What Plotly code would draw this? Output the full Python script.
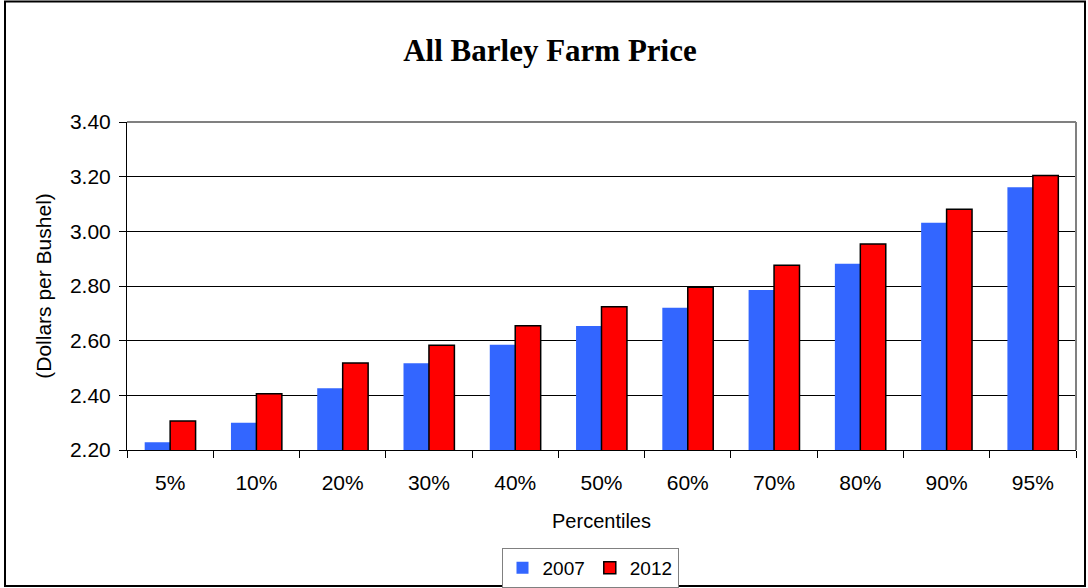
import plotly.graph_objects as go

categories = ["5%", "10%", "20%", "30%", "40%", "50%", "60%", "70%", "80%", "90%", "95%"]
values_2007 = [2.228, 2.300, 2.426, 2.517, 2.585, 2.654, 2.720, 2.785, 2.881, 3.031, 3.161]
values_2012 = [2.306, 2.406, 2.518, 2.583, 2.655, 2.724, 2.795, 2.876, 2.954, 3.081, 3.204]
y_ticks = [2.20, 2.40, 2.60, 2.80, 3.00, 3.20, 3.40]

W, H = 1088, 588
L, R, T, B = 127, 1076, 122, 450  # plot area in pixels

def px_x(p):
    return (p - L) / (R - L)

def px_y(p):
    return (B - p) / (B - T)

fig = go.Figure()
fig.add_trace(go.Bar(x=categories, y=values_2007, name="2007",
                     marker=dict(color="#3366FF", line=dict(width=0))))
fig.add_trace(go.Bar(x=categories, y=values_2012, name="2012",
                     marker=dict(color="#FF0000", line=dict(color="black", width=1.5))))

fig.update_layout(
    width=W, height=H,
    margin=dict(l=L, r=W - R, t=T, b=H - B, pad=0, autoexpand=False),
    paper_bgcolor="white", plot_bgcolor="white",
    barmode="group", bargap=0.41, bargroupgap=0,
    font=dict(family="Liberation Sans, Arial, sans-serif", size=21, color="black"),
    title=dict(text="<b>All Barley Farm Price</b>", x=px_x(550), xref="paper", xanchor="center",
               y=1 - 50 / H, yanchor="middle",
               font=dict(family="Liberation Serif, Times New Roman, serif", size=31, color="black")),
    showlegend=True,
    legend=dict(orientation="h", x=px_x(590), y=px_y(568), xref="paper", yref="paper",
                xanchor="center", yanchor="middle",
                bordercolor="#808080", borderwidth=1, bgcolor="white",
                font=dict(size=19), itemwidth=30, tracegroupgap=0),
    xaxis=dict(type="category", showline=True, linecolor="black", linewidth=1,
               ticks="outside", ticklen=7, tickcolor="black", tickson="boundaries",
               showgrid=False, tickfont=dict(size=21), automargin=False,
               ticklabelstandoff=14,
               title=dict(text="Percentiles", font=dict(size=20), standoff=20)),
    yaxis=dict(range=[2.2, 3.4], tickvals=y_ticks, tickformat=".2f",
               showline=True, linecolor="black", linewidth=1,
               ticks="outside", ticklen=7, tickcolor="black",
               showgrid=True, gridcolor="black", gridwidth=1, zeroline=False,
               tickfont=dict(size=21), automargin=False, ticklabelstandoff=4,
               title=dict(text="(Dollars per Bushel)", font=dict(size=21), standoff=12)),
)

# gray plot-area frame (top and right)
fig.add_shape(type="line", xref="paper", yref="paper", x0=0, x1=1, y0=1, y1=1,
              line=dict(color="#808080", width=2), layer="above")
fig.add_shape(type="line", xref="paper", yref="paper", x0=1, x1=1, y0=0, y1=1,
              line=dict(color="#808080", width=2), layer="above")
# outer chart border
fig.add_shape(type="rect", xref="paper", yref="paper",
              x0=px_x(5), x1=px_x(1085), y0=px_y(586), y1=px_y(1.5),
              line=dict(color="black", width=2), fillcolor="rgba(0,0,0,0)", layer="above")

fig.write_html("out.html", config={"displayModeBar": False},
               post_script="document.body.style.margin='0';document.body.style.overflow='hidden';")
